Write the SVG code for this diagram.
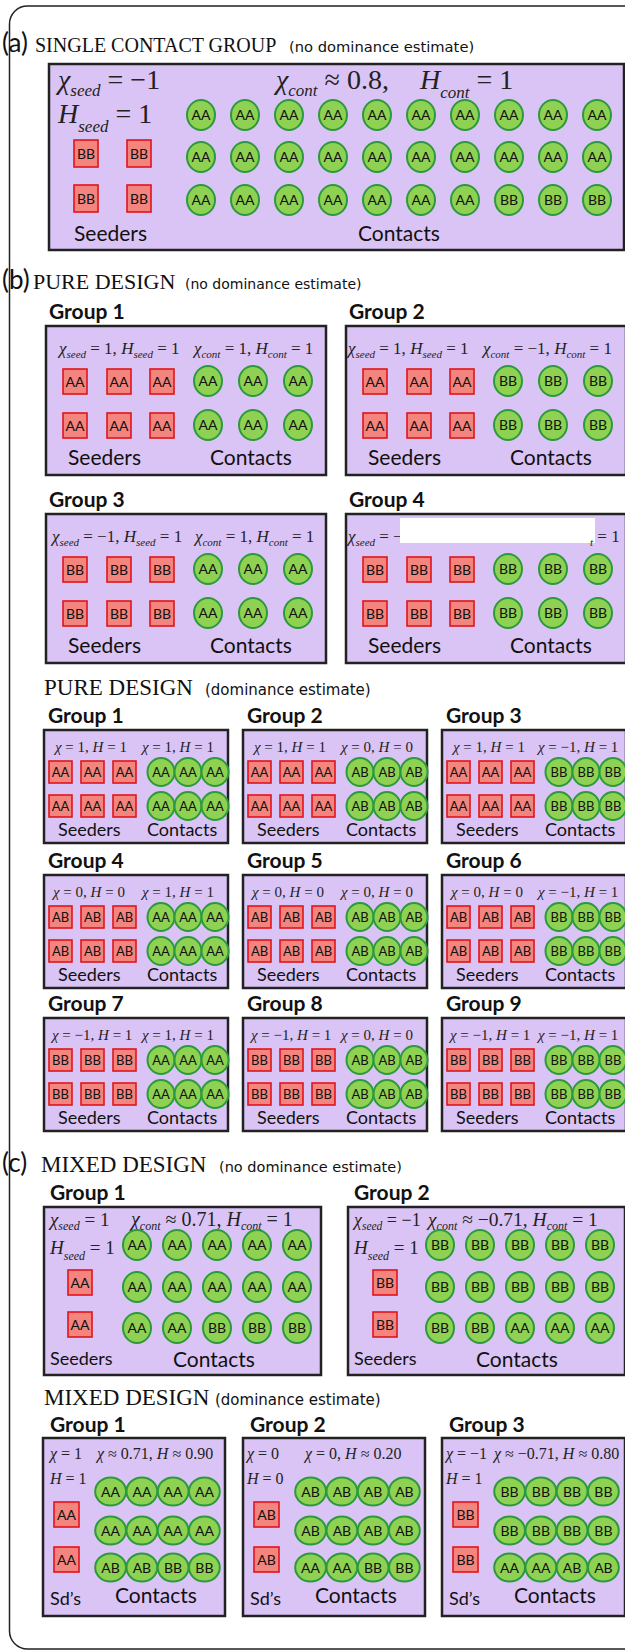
<svg xmlns="http://www.w3.org/2000/svg" width="625" height="1651" viewBox="0 0 625 1651">
<style>
.bx{fill:#dac4f6;stroke:#222;stroke-width:2.5}
.sq{fill:#f4847e;stroke:#e2141c;stroke-width:1.6}
.ci{fill:#8fd152;stroke:#2b9a3c;stroke-width:2}
.gt{font-family:Lato,"Liberation Sans",sans-serif;font-size:14px;fill:#111;text-anchor:middle}
.gs{font-family:Lato,"Liberation Sans",sans-serif;font-size:13px;fill:#111;text-anchor:middle}
.lb{font-family:Lato,"Liberation Sans",sans-serif;font-size:21px;fill:#111}
.ls{font-family:Lato,"Liberation Sans",sans-serif;font-size:18px;fill:#111}
.gh{font-family:Lato,"Liberation Sans",sans-serif;font-size:21px;font-weight:bold;fill:#111}
.m{font-family:"Liberation Serif","Times New Roman",serif;fill:#222}
.i{font-style:italic}
.tl{font-family:"Liberation Serif","Times New Roman",serif;font-size:23px;fill:#111}
.tp{font-family:Lato,"Liberation Sans",sans-serif;font-size:26px;fill:#111}
.ts{font-family:"DejaVu Sans",Verdana,sans-serif;font-size:15px;fill:#111}
</style>
<rect x="9.5" y="6" width="640" height="1643" rx="18" fill="none" stroke="#222" stroke-width="1.5"/>

<!-- (a) -->
<g id="title-a"><text class="tp" x="2" y="52">(a)</text><text class="tl" x="35" y="52" style="font-size:20px">SINGLE CONTACT GROUP</text><text class="ts" x="289" y="52" style="font-size:14.7px">(no dominance estimate)</text></g>
<g id="a-group">
<rect class="bx" x="49" y="64" width="575" height="186"/>
<text class="m" x="58" y="89" font-size="28"><tspan class="i">χ</tspan><tspan class="i" font-size="17" dy="7">seed</tspan><tspan dy="-7"> = −1</tspan></text>
<text class="m" x="58" y="123" font-size="28"><tspan class="i">H</tspan><tspan class="i" font-size="17" dy="9">seed</tspan><tspan dy="-9"> = 1</tspan></text>
<text class="m" x="276" y="89" font-size="28"><tspan class="i">χ</tspan><tspan class="i" font-size="17" dy="7">cont</tspan><tspan dy="-7"> ≈ 0.8,</tspan></text>
<text class="m" x="420" y="89" font-size="28"><tspan class="i">H</tspan><tspan class="i" font-size="17" dy="9">cont</tspan><tspan dy="-9"> = 1</tspan></text>
<rect class="sq" x="74" y="140" width="24" height="27"/><text class="gt" x="86" y="158.5">BB</text>
<rect class="sq" x="127" y="140" width="24" height="27"/><text class="gt" x="139" y="158.5">BB</text>
<rect class="sq" x="74" y="185" width="24" height="27"/><text class="gt" x="86" y="203.5">BB</text>
<rect class="sq" x="127" y="185" width="24" height="27"/><text class="gt" x="139" y="203.5">BB</text>
<ellipse class="ci" cx="201" cy="115" rx="14" ry="15"/><text class="gt" x="201" y="120">AA</text>
<ellipse class="ci" cx="245" cy="115" rx="14" ry="15"/><text class="gt" x="245" y="120">AA</text>
<ellipse class="ci" cx="289" cy="115" rx="14" ry="15"/><text class="gt" x="289" y="120">AA</text>
<ellipse class="ci" cx="333" cy="115" rx="14" ry="15"/><text class="gt" x="333" y="120">AA</text>
<ellipse class="ci" cx="377" cy="115" rx="14" ry="15"/><text class="gt" x="377" y="120">AA</text>
<ellipse class="ci" cx="421" cy="115" rx="14" ry="15"/><text class="gt" x="421" y="120">AA</text>
<ellipse class="ci" cx="465" cy="115" rx="14" ry="15"/><text class="gt" x="465" y="120">AA</text>
<ellipse class="ci" cx="509" cy="115" rx="14" ry="15"/><text class="gt" x="509" y="120">AA</text>
<ellipse class="ci" cx="553" cy="115" rx="14" ry="15"/><text class="gt" x="553" y="120">AA</text>
<ellipse class="ci" cx="597" cy="115" rx="14" ry="15"/><text class="gt" x="597" y="120">AA</text>
<ellipse class="ci" cx="201" cy="157" rx="14" ry="15"/><text class="gt" x="201" y="162">AA</text>
<ellipse class="ci" cx="245" cy="157" rx="14" ry="15"/><text class="gt" x="245" y="162">AA</text>
<ellipse class="ci" cx="289" cy="157" rx="14" ry="15"/><text class="gt" x="289" y="162">AA</text>
<ellipse class="ci" cx="333" cy="157" rx="14" ry="15"/><text class="gt" x="333" y="162">AA</text>
<ellipse class="ci" cx="377" cy="157" rx="14" ry="15"/><text class="gt" x="377" y="162">AA</text>
<ellipse class="ci" cx="421" cy="157" rx="14" ry="15"/><text class="gt" x="421" y="162">AA</text>
<ellipse class="ci" cx="465" cy="157" rx="14" ry="15"/><text class="gt" x="465" y="162">AA</text>
<ellipse class="ci" cx="509" cy="157" rx="14" ry="15"/><text class="gt" x="509" y="162">AA</text>
<ellipse class="ci" cx="553" cy="157" rx="14" ry="15"/><text class="gt" x="553" y="162">AA</text>
<ellipse class="ci" cx="597" cy="157" rx="14" ry="15"/><text class="gt" x="597" y="162">AA</text>
<ellipse class="ci" cx="201" cy="200" rx="14" ry="15"/><text class="gt" x="201" y="205">AA</text>
<ellipse class="ci" cx="245" cy="200" rx="14" ry="15"/><text class="gt" x="245" y="205">AA</text>
<ellipse class="ci" cx="289" cy="200" rx="14" ry="15"/><text class="gt" x="289" y="205">AA</text>
<ellipse class="ci" cx="333" cy="200" rx="14" ry="15"/><text class="gt" x="333" y="205">AA</text>
<ellipse class="ci" cx="377" cy="200" rx="14" ry="15"/><text class="gt" x="377" y="205">AA</text>
<ellipse class="ci" cx="421" cy="200" rx="14" ry="15"/><text class="gt" x="421" y="205">AA</text>
<ellipse class="ci" cx="465" cy="200" rx="14" ry="15"/><text class="gt" x="465" y="205">AA</text>
<ellipse class="ci" cx="509" cy="200" rx="14" ry="15"/><text class="gt" x="509" y="205">BB</text>
<ellipse class="ci" cx="553" cy="200" rx="14" ry="15"/><text class="gt" x="553" y="205">BB</text>
<ellipse class="ci" cx="597" cy="200" rx="14" ry="15"/><text class="gt" x="597" y="205">BB</text>
<text class="lb" x="74" y="241">Seeders</text><text class="lb" x="358" y="241">Contacts</text>
</g>

<!-- (b) -->
<g id="title-b"><text class="tp" x="2" y="289">(b)</text><text class="tl" x="33" y="289" style="font-size:22px">PURE DESIGN</text><text class="ts" x="185" y="289" style="font-size:14px">(no dominance estimate)</text></g>

<g id="b-g1">
<text class="gh" x="49" y="319">Group 1</text>
<rect class="bx" x="46" y="326" width="280" height="149"/>
<text class="m" x="59" y="354" font-size="17"><tspan class="i">χ</tspan><tspan class="i" font-size="11" dy="4">seed</tspan><tspan dy="-4"> = 1, </tspan><tspan class="i">H</tspan><tspan class="i" font-size="11" dy="4">seed</tspan><tspan dy="-4"> = 1</tspan></text>
<text class="m" x="194" y="354" font-size="17"><tspan class="i">χ</tspan><tspan class="i" font-size="11" dy="4">cont</tspan><tspan dy="-4"> = 1, </tspan><tspan class="i">H</tspan><tspan class="i" font-size="11" dy="4">cont</tspan><tspan dy="-4"> = 1</tspan></text>
<rect class="sq" x="63" y="369" width="24" height="25"/><text class="gt" x="75" y="386.5">AA</text>
<rect class="sq" x="107" y="369" width="24" height="25"/><text class="gt" x="119" y="386.5">AA</text>
<rect class="sq" x="150" y="369" width="24" height="25"/><text class="gt" x="162" y="386.5">AA</text>
<rect class="sq" x="63" y="413" width="24" height="25"/><text class="gt" x="75" y="430.5">AA</text>
<rect class="sq" x="107" y="413" width="24" height="25"/><text class="gt" x="119" y="430.5">AA</text>
<rect class="sq" x="150" y="413" width="24" height="25"/><text class="gt" x="162" y="430.5">AA</text>
<ellipse class="ci" cx="208" cy="381" rx="14" ry="15"/><text class="gt" x="208" y="386">AA</text>
<ellipse class="ci" cx="253" cy="381" rx="14" ry="15"/><text class="gt" x="253" y="386">AA</text>
<ellipse class="ci" cx="298" cy="381" rx="14" ry="15"/><text class="gt" x="298" y="386">AA</text>
<ellipse class="ci" cx="208" cy="425" rx="14" ry="15"/><text class="gt" x="208" y="430">AA</text>
<ellipse class="ci" cx="253" cy="425" rx="14" ry="15"/><text class="gt" x="253" y="430">AA</text>
<ellipse class="ci" cx="298" cy="425" rx="14" ry="15"/><text class="gt" x="298" y="430">AA</text>
<text class="lb" x="68" y="465">Seeders</text><text class="lb" x="210" y="465">Contacts</text>
</g>

<g id="b-g2">
<text class="gh" x="349" y="319">Group 2</text>
<rect class="bx" x="346" y="326" width="280" height="149"/>
<text class="m" x="348" y="354" font-size="17"><tspan class="i">χ</tspan><tspan class="i" font-size="11" dy="4">seed</tspan><tspan dy="-4"> = 1, </tspan><tspan class="i">H</tspan><tspan class="i" font-size="11" dy="4">seed</tspan><tspan dy="-4"> = 1</tspan></text>
<text class="m" x="483" y="354" font-size="17"><tspan class="i">χ</tspan><tspan class="i" font-size="11" dy="4">cont</tspan><tspan dy="-4"> = −1, </tspan><tspan class="i">H</tspan><tspan class="i" font-size="11" dy="4">cont</tspan><tspan dy="-4"> = 1</tspan></text>
<rect class="sq" x="363" y="369" width="24" height="25"/><text class="gt" x="375" y="386.5">AA</text>
<rect class="sq" x="407" y="369" width="24" height="25"/><text class="gt" x="419" y="386.5">AA</text>
<rect class="sq" x="450" y="369" width="24" height="25"/><text class="gt" x="462" y="386.5">AA</text>
<rect class="sq" x="363" y="413" width="24" height="25"/><text class="gt" x="375" y="430.5">AA</text>
<rect class="sq" x="407" y="413" width="24" height="25"/><text class="gt" x="419" y="430.5">AA</text>
<rect class="sq" x="450" y="413" width="24" height="25"/><text class="gt" x="462" y="430.5">AA</text>
<ellipse class="ci" cx="508" cy="381" rx="14" ry="15"/><text class="gt" x="508" y="386">BB</text>
<ellipse class="ci" cx="553" cy="381" rx="14" ry="15"/><text class="gt" x="553" y="386">BB</text>
<ellipse class="ci" cx="598" cy="381" rx="14" ry="15"/><text class="gt" x="598" y="386">BB</text>
<ellipse class="ci" cx="508" cy="425" rx="14" ry="15"/><text class="gt" x="508" y="430">BB</text>
<ellipse class="ci" cx="553" cy="425" rx="14" ry="15"/><text class="gt" x="553" y="430">BB</text>
<ellipse class="ci" cx="598" cy="425" rx="14" ry="15"/><text class="gt" x="598" y="430">BB</text>
<text class="lb" x="368" y="465">Seeders</text><text class="lb" x="510" y="465">Contacts</text>
</g>

<g id="b-g3">
<text class="gh" x="49" y="507">Group 3</text>
<rect class="bx" x="46" y="514" width="280" height="149"/>
<text class="m" x="52" y="542" font-size="17"><tspan class="i">χ</tspan><tspan class="i" font-size="11" dy="4">seed</tspan><tspan dy="-4"> = −1, </tspan><tspan class="i">H</tspan><tspan class="i" font-size="11" dy="4">seed</tspan><tspan dy="-4"> = 1</tspan></text>
<text class="m" x="195" y="542" font-size="17"><tspan class="i">χ</tspan><tspan class="i" font-size="11" dy="4">cont</tspan><tspan dy="-4"> = 1, </tspan><tspan class="i">H</tspan><tspan class="i" font-size="11" dy="4">cont</tspan><tspan dy="-4"> = 1</tspan></text>
<rect class="sq" x="63" y="557" width="24" height="25"/><text class="gt" x="75" y="574.5">BB</text>
<rect class="sq" x="107" y="557" width="24" height="25"/><text class="gt" x="119" y="574.5">BB</text>
<rect class="sq" x="150" y="557" width="24" height="25"/><text class="gt" x="162" y="574.5">BB</text>
<rect class="sq" x="63" y="601" width="24" height="25"/><text class="gt" x="75" y="618.5">BB</text>
<rect class="sq" x="107" y="601" width="24" height="25"/><text class="gt" x="119" y="618.5">BB</text>
<rect class="sq" x="150" y="601" width="24" height="25"/><text class="gt" x="162" y="618.5">BB</text>
<ellipse class="ci" cx="208" cy="569" rx="14" ry="15"/><text class="gt" x="208" y="574">AA</text>
<ellipse class="ci" cx="253" cy="569" rx="14" ry="15"/><text class="gt" x="253" y="574">AA</text>
<ellipse class="ci" cx="298" cy="569" rx="14" ry="15"/><text class="gt" x="298" y="574">AA</text>
<ellipse class="ci" cx="208" cy="613" rx="14" ry="15"/><text class="gt" x="208" y="618">AA</text>
<ellipse class="ci" cx="253" cy="613" rx="14" ry="15"/><text class="gt" x="253" y="618">AA</text>
<ellipse class="ci" cx="298" cy="613" rx="14" ry="15"/><text class="gt" x="298" y="618">AA</text>
<text class="lb" x="68" y="653">Seeders</text><text class="lb" x="210" y="653">Contacts</text>
</g>

<g id="b-g4">
<text class="gh" x="349" y="507">Group 4</text>
<rect class="bx" x="346" y="514" width="280" height="149"/>
<text class="m" x="348" y="542" font-size="17"><tspan class="i">χ</tspan><tspan class="i" font-size="11" dy="4">seed</tspan><tspan dy="-4"> = −</tspan></text>
<rect x="400" y="518" width="195" height="25" fill="#ffffff"/>
<text class="m" x="590" y="542" font-size="17"><tspan class="i" font-size="11" dy="4">t</tspan><tspan dy="-4"> = 1</tspan></text>
<rect class="sq" x="363" y="557" width="24" height="25"/><text class="gt" x="375" y="574.5">BB</text>
<rect class="sq" x="407" y="557" width="24" height="25"/><text class="gt" x="419" y="574.5">BB</text>
<rect class="sq" x="450" y="557" width="24" height="25"/><text class="gt" x="462" y="574.5">BB</text>
<rect class="sq" x="363" y="601" width="24" height="25"/><text class="gt" x="375" y="618.5">BB</text>
<rect class="sq" x="407" y="601" width="24" height="25"/><text class="gt" x="419" y="618.5">BB</text>
<rect class="sq" x="450" y="601" width="24" height="25"/><text class="gt" x="462" y="618.5">BB</text>
<ellipse class="ci" cx="508" cy="569" rx="14" ry="15"/><text class="gt" x="508" y="574">BB</text>
<ellipse class="ci" cx="553" cy="569" rx="14" ry="15"/><text class="gt" x="553" y="574">BB</text>
<ellipse class="ci" cx="598" cy="569" rx="14" ry="15"/><text class="gt" x="598" y="574">BB</text>
<ellipse class="ci" cx="508" cy="613" rx="14" ry="15"/><text class="gt" x="508" y="618">BB</text>
<ellipse class="ci" cx="553" cy="613" rx="14" ry="15"/><text class="gt" x="553" y="618">BB</text>
<ellipse class="ci" cx="598" cy="613" rx="14" ry="15"/><text class="gt" x="598" y="618">BB</text>
<text class="lb" x="368" y="653">Seeders</text><text class="lb" x="510" y="653">Contacts</text>
</g>

<!-- pure design dominance -->
<g id="title-pd"><text class="tl" x="44" y="695">PURE DESIGN</text><text class="ts" x="205" y="695">(dominance estimate)</text></g>

<g id="pd-g1">
<text class="gh" x="48" y="723">Group 1</text>
<rect class="bx" x="44" y="730" width="184" height="113"/>
<text class="m" x="55" y="752" font-size="15"><tspan class="i">χ</tspan> = 1, <tspan class="i">H</tspan> = 1</text>
<text class="m" x="142" y="752" font-size="15"><tspan class="i">χ</tspan> = 1, <tspan class="i">H</tspan> = 1</text>
<rect class="sq" x="49" y="761" width="23" height="22"/><text class="gs" x="60.5" y="776.5">AA</text>
<rect class="sq" x="81" y="761" width="23" height="22"/><text class="gs" x="92.5" y="776.5">AA</text>
<rect class="sq" x="113" y="761" width="23" height="22"/><text class="gs" x="124.5" y="776.5">AA</text>
<rect class="sq" x="49" y="795" width="23" height="22"/><text class="gs" x="60.5" y="810.5">AA</text>
<rect class="sq" x="81" y="795" width="23" height="22"/><text class="gs" x="92.5" y="810.5">AA</text>
<rect class="sq" x="113" y="795" width="23" height="22"/><text class="gs" x="124.5" y="810.5">AA</text>
<ellipse class="ci" cx="161" cy="772" rx="13.5" ry="14"/><text class="gs" x="161" y="776.5">AA</text>
<ellipse class="ci" cx="188" cy="772" rx="13.5" ry="14"/><text class="gs" x="188" y="776.5">AA</text>
<ellipse class="ci" cx="215" cy="772" rx="13.5" ry="14"/><text class="gs" x="215" y="776.5">AA</text>
<ellipse class="ci" cx="161" cy="806" rx="13.5" ry="14"/><text class="gs" x="161" y="810.5">AA</text>
<ellipse class="ci" cx="188" cy="806" rx="13.5" ry="14"/><text class="gs" x="188" y="810.5">AA</text>
<ellipse class="ci" cx="215" cy="806" rx="13.5" ry="14"/><text class="gs" x="215" y="810.5">AA</text>
<text class="ls" x="58" y="836">Seeders</text><text class="ls" x="147" y="836">Contacts</text>
</g>

<g id="pd-g2">
<text class="gh" x="247" y="723">Group 2</text>
<rect class="bx" x="243" y="730" width="184" height="113"/>
<text class="m" x="254" y="752" font-size="15"><tspan class="i">χ</tspan> = 1, <tspan class="i">H</tspan> = 1</text>
<text class="m" x="341" y="752" font-size="15"><tspan class="i">χ</tspan> = 0, <tspan class="i">H</tspan> = 0</text>
<rect class="sq" x="248" y="761" width="23" height="22"/><text class="gs" x="259.5" y="776.5">AA</text>
<rect class="sq" x="280" y="761" width="23" height="22"/><text class="gs" x="291.5" y="776.5">AA</text>
<rect class="sq" x="312" y="761" width="23" height="22"/><text class="gs" x="323.5" y="776.5">AA</text>
<rect class="sq" x="248" y="795" width="23" height="22"/><text class="gs" x="259.5" y="810.5">AA</text>
<rect class="sq" x="280" y="795" width="23" height="22"/><text class="gs" x="291.5" y="810.5">AA</text>
<rect class="sq" x="312" y="795" width="23" height="22"/><text class="gs" x="323.5" y="810.5">AA</text>
<ellipse class="ci" cx="360" cy="772" rx="13.5" ry="14"/><text class="gs" x="360" y="776.5">AB</text>
<ellipse class="ci" cx="387" cy="772" rx="13.5" ry="14"/><text class="gs" x="387" y="776.5">AB</text>
<ellipse class="ci" cx="414" cy="772" rx="13.5" ry="14"/><text class="gs" x="414" y="776.5">AB</text>
<ellipse class="ci" cx="360" cy="806" rx="13.5" ry="14"/><text class="gs" x="360" y="810.5">AB</text>
<ellipse class="ci" cx="387" cy="806" rx="13.5" ry="14"/><text class="gs" x="387" y="810.5">AB</text>
<ellipse class="ci" cx="414" cy="806" rx="13.5" ry="14"/><text class="gs" x="414" y="810.5">AB</text>
<text class="ls" x="257" y="836">Seeders</text><text class="ls" x="346" y="836">Contacts</text>
</g>

<g id="pd-g3">
<text class="gh" x="446" y="723">Group 3</text>
<rect class="bx" x="442" y="730" width="184" height="113"/>
<text class="m" x="453" y="752" font-size="15"><tspan class="i">χ</tspan> = 1, <tspan class="i">H</tspan> = 1</text>
<text class="m" x="538" y="752" font-size="15"><tspan class="i">χ</tspan> = −1, <tspan class="i">H</tspan> = 1</text>
<rect class="sq" x="447" y="761" width="23" height="22"/><text class="gs" x="458.5" y="776.5">AA</text>
<rect class="sq" x="479" y="761" width="23" height="22"/><text class="gs" x="490.5" y="776.5">AA</text>
<rect class="sq" x="511" y="761" width="23" height="22"/><text class="gs" x="522.5" y="776.5">AA</text>
<rect class="sq" x="447" y="795" width="23" height="22"/><text class="gs" x="458.5" y="810.5">AA</text>
<rect class="sq" x="479" y="795" width="23" height="22"/><text class="gs" x="490.5" y="810.5">AA</text>
<rect class="sq" x="511" y="795" width="23" height="22"/><text class="gs" x="522.5" y="810.5">AA</text>
<ellipse class="ci" cx="559" cy="772" rx="13.5" ry="14"/><text class="gs" x="559" y="776.5">BB</text>
<ellipse class="ci" cx="586" cy="772" rx="13.5" ry="14"/><text class="gs" x="586" y="776.5">BB</text>
<ellipse class="ci" cx="613" cy="772" rx="13.5" ry="14"/><text class="gs" x="613" y="776.5">BB</text>
<ellipse class="ci" cx="559" cy="806" rx="13.5" ry="14"/><text class="gs" x="559" y="810.5">BB</text>
<ellipse class="ci" cx="586" cy="806" rx="13.5" ry="14"/><text class="gs" x="586" y="810.5">BB</text>
<ellipse class="ci" cx="613" cy="806" rx="13.5" ry="14"/><text class="gs" x="613" y="810.5">BB</text>
<text class="ls" x="456" y="836">Seeders</text><text class="ls" x="545" y="836">Contacts</text>
</g>

<g id="pd-g4">
<text class="gh" x="48" y="868">Group 4</text>
<rect class="bx" x="44" y="875" width="184" height="113"/>
<text class="m" x="53" y="897" font-size="15"><tspan class="i">χ</tspan> = 0, <tspan class="i">H</tspan> = 0</text>
<text class="m" x="142" y="897" font-size="15"><tspan class="i">χ</tspan> = 1, <tspan class="i">H</tspan> = 1</text>
<rect class="sq" x="49" y="906" width="23" height="22"/><text class="gs" x="60.5" y="921.5">AB</text>
<rect class="sq" x="81" y="906" width="23" height="22"/><text class="gs" x="92.5" y="921.5">AB</text>
<rect class="sq" x="113" y="906" width="23" height="22"/><text class="gs" x="124.5" y="921.5">AB</text>
<rect class="sq" x="49" y="940" width="23" height="22"/><text class="gs" x="60.5" y="955.5">AB</text>
<rect class="sq" x="81" y="940" width="23" height="22"/><text class="gs" x="92.5" y="955.5">AB</text>
<rect class="sq" x="113" y="940" width="23" height="22"/><text class="gs" x="124.5" y="955.5">AB</text>
<ellipse class="ci" cx="161" cy="917" rx="13.5" ry="14"/><text class="gs" x="161" y="921.5">AA</text>
<ellipse class="ci" cx="188" cy="917" rx="13.5" ry="14"/><text class="gs" x="188" y="921.5">AA</text>
<ellipse class="ci" cx="215" cy="917" rx="13.5" ry="14"/><text class="gs" x="215" y="921.5">AA</text>
<ellipse class="ci" cx="161" cy="951" rx="13.5" ry="14"/><text class="gs" x="161" y="955.5">AA</text>
<ellipse class="ci" cx="188" cy="951" rx="13.5" ry="14"/><text class="gs" x="188" y="955.5">AA</text>
<ellipse class="ci" cx="215" cy="951" rx="13.5" ry="14"/><text class="gs" x="215" y="955.5">AA</text>
<text class="ls" x="58" y="981">Seeders</text><text class="ls" x="147" y="981">Contacts</text>
</g>

<g id="pd-g5">
<text class="gh" x="247" y="868">Group 5</text>
<rect class="bx" x="243" y="875" width="184" height="113"/>
<text class="m" x="252" y="897" font-size="15"><tspan class="i">χ</tspan> = 0, <tspan class="i">H</tspan> = 0</text>
<text class="m" x="341" y="897" font-size="15"><tspan class="i">χ</tspan> = 0, <tspan class="i">H</tspan> = 0</text>
<rect class="sq" x="248" y="906" width="23" height="22"/><text class="gs" x="259.5" y="921.5">AB</text>
<rect class="sq" x="280" y="906" width="23" height="22"/><text class="gs" x="291.5" y="921.5">AB</text>
<rect class="sq" x="312" y="906" width="23" height="22"/><text class="gs" x="323.5" y="921.5">AB</text>
<rect class="sq" x="248" y="940" width="23" height="22"/><text class="gs" x="259.5" y="955.5">AB</text>
<rect class="sq" x="280" y="940" width="23" height="22"/><text class="gs" x="291.5" y="955.5">AB</text>
<rect class="sq" x="312" y="940" width="23" height="22"/><text class="gs" x="323.5" y="955.5">AB</text>
<ellipse class="ci" cx="360" cy="917" rx="13.5" ry="14"/><text class="gs" x="360" y="921.5">AB</text>
<ellipse class="ci" cx="387" cy="917" rx="13.5" ry="14"/><text class="gs" x="387" y="921.5">AB</text>
<ellipse class="ci" cx="414" cy="917" rx="13.5" ry="14"/><text class="gs" x="414" y="921.5">AB</text>
<ellipse class="ci" cx="360" cy="951" rx="13.5" ry="14"/><text class="gs" x="360" y="955.5">AB</text>
<ellipse class="ci" cx="387" cy="951" rx="13.5" ry="14"/><text class="gs" x="387" y="955.5">AB</text>
<ellipse class="ci" cx="414" cy="951" rx="13.5" ry="14"/><text class="gs" x="414" y="955.5">AB</text>
<text class="ls" x="257" y="981">Seeders</text><text class="ls" x="346" y="981">Contacts</text>
</g>

<g id="pd-g6">
<text class="gh" x="446" y="868">Group 6</text>
<rect class="bx" x="442" y="875" width="184" height="113"/>
<text class="m" x="451" y="897" font-size="15"><tspan class="i">χ</tspan> = 0, <tspan class="i">H</tspan> = 0</text>
<text class="m" x="538" y="897" font-size="15"><tspan class="i">χ</tspan> = −1, <tspan class="i">H</tspan> = 1</text>
<rect class="sq" x="447" y="906" width="23" height="22"/><text class="gs" x="458.5" y="921.5">AB</text>
<rect class="sq" x="479" y="906" width="23" height="22"/><text class="gs" x="490.5" y="921.5">AB</text>
<rect class="sq" x="511" y="906" width="23" height="22"/><text class="gs" x="522.5" y="921.5">AB</text>
<rect class="sq" x="447" y="940" width="23" height="22"/><text class="gs" x="458.5" y="955.5">AB</text>
<rect class="sq" x="479" y="940" width="23" height="22"/><text class="gs" x="490.5" y="955.5">AB</text>
<rect class="sq" x="511" y="940" width="23" height="22"/><text class="gs" x="522.5" y="955.5">AB</text>
<ellipse class="ci" cx="559" cy="917" rx="13.5" ry="14"/><text class="gs" x="559" y="921.5">BB</text>
<ellipse class="ci" cx="586" cy="917" rx="13.5" ry="14"/><text class="gs" x="586" y="921.5">BB</text>
<ellipse class="ci" cx="613" cy="917" rx="13.5" ry="14"/><text class="gs" x="613" y="921.5">BB</text>
<ellipse class="ci" cx="559" cy="951" rx="13.5" ry="14"/><text class="gs" x="559" y="955.5">BB</text>
<ellipse class="ci" cx="586" cy="951" rx="13.5" ry="14"/><text class="gs" x="586" y="955.5">BB</text>
<ellipse class="ci" cx="613" cy="951" rx="13.5" ry="14"/><text class="gs" x="613" y="955.5">BB</text>
<text class="ls" x="456" y="981">Seeders</text><text class="ls" x="545" y="981">Contacts</text>
</g>

<g id="pd-g7">
<text class="gh" x="48" y="1011">Group 7</text>
<rect class="bx" x="44" y="1018" width="184" height="113"/>
<text class="m" x="52" y="1040" font-size="15"><tspan class="i">χ</tspan> = −1, <tspan class="i">H</tspan> = 1</text>
<text class="m" x="142" y="1040" font-size="15"><tspan class="i">χ</tspan> = 1, <tspan class="i">H</tspan> = 1</text>
<rect class="sq" x="49" y="1049" width="23" height="22"/><text class="gs" x="60.5" y="1064.5">BB</text>
<rect class="sq" x="81" y="1049" width="23" height="22"/><text class="gs" x="92.5" y="1064.5">BB</text>
<rect class="sq" x="113" y="1049" width="23" height="22"/><text class="gs" x="124.5" y="1064.5">BB</text>
<rect class="sq" x="49" y="1083" width="23" height="22"/><text class="gs" x="60.5" y="1098.5">BB</text>
<rect class="sq" x="81" y="1083" width="23" height="22"/><text class="gs" x="92.5" y="1098.5">BB</text>
<rect class="sq" x="113" y="1083" width="23" height="22"/><text class="gs" x="124.5" y="1098.5">BB</text>
<ellipse class="ci" cx="161" cy="1060" rx="13.5" ry="14"/><text class="gs" x="161" y="1064.5">AA</text>
<ellipse class="ci" cx="188" cy="1060" rx="13.5" ry="14"/><text class="gs" x="188" y="1064.5">AA</text>
<ellipse class="ci" cx="215" cy="1060" rx="13.5" ry="14"/><text class="gs" x="215" y="1064.5">AA</text>
<ellipse class="ci" cx="161" cy="1094" rx="13.5" ry="14"/><text class="gs" x="161" y="1098.5">AA</text>
<ellipse class="ci" cx="188" cy="1094" rx="13.5" ry="14"/><text class="gs" x="188" y="1098.5">AA</text>
<ellipse class="ci" cx="215" cy="1094" rx="13.5" ry="14"/><text class="gs" x="215" y="1098.5">AA</text>
<text class="ls" x="58" y="1124">Seeders</text><text class="ls" x="147" y="1124">Contacts</text>
</g>

<g id="pd-g8">
<text class="gh" x="247" y="1011">Group 8</text>
<rect class="bx" x="243" y="1018" width="184" height="113"/>
<text class="m" x="251" y="1040" font-size="15"><tspan class="i">χ</tspan> = −1, <tspan class="i">H</tspan> = 1</text>
<text class="m" x="341" y="1040" font-size="15"><tspan class="i">χ</tspan> = 0, <tspan class="i">H</tspan> = 0</text>
<rect class="sq" x="248" y="1049" width="23" height="22"/><text class="gs" x="259.5" y="1064.5">BB</text>
<rect class="sq" x="280" y="1049" width="23" height="22"/><text class="gs" x="291.5" y="1064.5">BB</text>
<rect class="sq" x="312" y="1049" width="23" height="22"/><text class="gs" x="323.5" y="1064.5">BB</text>
<rect class="sq" x="248" y="1083" width="23" height="22"/><text class="gs" x="259.5" y="1098.5">BB</text>
<rect class="sq" x="280" y="1083" width="23" height="22"/><text class="gs" x="291.5" y="1098.5">BB</text>
<rect class="sq" x="312" y="1083" width="23" height="22"/><text class="gs" x="323.5" y="1098.5">BB</text>
<ellipse class="ci" cx="360" cy="1060" rx="13.5" ry="14"/><text class="gs" x="360" y="1064.5">AB</text>
<ellipse class="ci" cx="387" cy="1060" rx="13.5" ry="14"/><text class="gs" x="387" y="1064.5">AB</text>
<ellipse class="ci" cx="414" cy="1060" rx="13.5" ry="14"/><text class="gs" x="414" y="1064.5">AB</text>
<ellipse class="ci" cx="360" cy="1094" rx="13.5" ry="14"/><text class="gs" x="360" y="1098.5">AB</text>
<ellipse class="ci" cx="387" cy="1094" rx="13.5" ry="14"/><text class="gs" x="387" y="1098.5">AB</text>
<ellipse class="ci" cx="414" cy="1094" rx="13.5" ry="14"/><text class="gs" x="414" y="1098.5">AB</text>
<text class="ls" x="257" y="1124">Seeders</text><text class="ls" x="346" y="1124">Contacts</text>
</g>

<g id="pd-g9">
<text class="gh" x="446" y="1011">Group 9</text>
<rect class="bx" x="442" y="1018" width="184" height="113"/>
<text class="m" x="450" y="1040" font-size="15"><tspan class="i">χ</tspan> = −1, <tspan class="i">H</tspan> = 1</text>
<text class="m" x="538" y="1040" font-size="15"><tspan class="i">χ</tspan> = −1, <tspan class="i">H</tspan> = 1</text>
<rect class="sq" x="447" y="1049" width="23" height="22"/><text class="gs" x="458.5" y="1064.5">BB</text>
<rect class="sq" x="479" y="1049" width="23" height="22"/><text class="gs" x="490.5" y="1064.5">BB</text>
<rect class="sq" x="511" y="1049" width="23" height="22"/><text class="gs" x="522.5" y="1064.5">BB</text>
<rect class="sq" x="447" y="1083" width="23" height="22"/><text class="gs" x="458.5" y="1098.5">BB</text>
<rect class="sq" x="479" y="1083" width="23" height="22"/><text class="gs" x="490.5" y="1098.5">BB</text>
<rect class="sq" x="511" y="1083" width="23" height="22"/><text class="gs" x="522.5" y="1098.5">BB</text>
<ellipse class="ci" cx="559" cy="1060" rx="13.5" ry="14"/><text class="gs" x="559" y="1064.5">BB</text>
<ellipse class="ci" cx="586" cy="1060" rx="13.5" ry="14"/><text class="gs" x="586" y="1064.5">BB</text>
<ellipse class="ci" cx="613" cy="1060" rx="13.5" ry="14"/><text class="gs" x="613" y="1064.5">BB</text>
<ellipse class="ci" cx="559" cy="1094" rx="13.5" ry="14"/><text class="gs" x="559" y="1098.5">BB</text>
<ellipse class="ci" cx="586" cy="1094" rx="13.5" ry="14"/><text class="gs" x="586" y="1098.5">BB</text>
<ellipse class="ci" cx="613" cy="1094" rx="13.5" ry="14"/><text class="gs" x="613" y="1098.5">BB</text>
<text class="ls" x="456" y="1124">Seeders</text><text class="ls" x="545" y="1124">Contacts</text>
</g>

<!-- (c) -->
<g id="title-c"><text class="tp" x="2" y="1172">(c)</text><text class="tl" x="41" y="1172">MIXED DESIGN</text><text class="ts" x="219" y="1172" style="font-size:14.5px">(no dominance estimate)</text></g>

<g id="c-g1">
<text class="gh" x="50" y="1200">Group 1</text>
<rect class="bx" x="44" y="1207" width="277" height="168"/>
<text class="m" x="50" y="1226" font-size="19"><tspan class="i">χ</tspan><tspan class="i" font-size="12" dy="4">seed</tspan><tspan dy="-4"> = 1</tspan></text>
<text class="m" x="131" y="1226" font-size="20"><tspan class="i">χ</tspan><tspan class="i" font-size="12" dy="4">cont</tspan><tspan dy="-4"> ≈ 0.71, </tspan><tspan class="i">H</tspan><tspan class="i" font-size="12" dy="4">cont</tspan><tspan dy="-4"> = 1</tspan></text>
<text class="m" x="50" y="1254" font-size="19"><tspan class="i">H</tspan><tspan class="i" font-size="12" dy="6">seed</tspan><tspan dy="-6"> = 1</tspan></text>
<rect class="sq" x="68" y="1270" width="24" height="25"/><text class="gt" x="80" y="1287.5">AA</text>
<rect class="sq" x="68" y="1312" width="24" height="25"/><text class="gt" x="80" y="1329.5">AA</text>
<ellipse class="ci" cx="137" cy="1245" rx="14" ry="15"/><text class="gt" x="137" y="1250">AA</text>
<ellipse class="ci" cx="177" cy="1245" rx="14" ry="15"/><text class="gt" x="177" y="1250">AA</text>
<ellipse class="ci" cx="217" cy="1245" rx="14" ry="15"/><text class="gt" x="217" y="1250">AA</text>
<ellipse class="ci" cx="257" cy="1245" rx="14" ry="15"/><text class="gt" x="257" y="1250">AA</text>
<ellipse class="ci" cx="297" cy="1245" rx="14" ry="15"/><text class="gt" x="297" y="1250">AA</text>
<ellipse class="ci" cx="137" cy="1287" rx="14" ry="15"/><text class="gt" x="137" y="1292">AA</text>
<ellipse class="ci" cx="177" cy="1287" rx="14" ry="15"/><text class="gt" x="177" y="1292">AA</text>
<ellipse class="ci" cx="217" cy="1287" rx="14" ry="15"/><text class="gt" x="217" y="1292">AA</text>
<ellipse class="ci" cx="257" cy="1287" rx="14" ry="15"/><text class="gt" x="257" y="1292">AA</text>
<ellipse class="ci" cx="297" cy="1287" rx="14" ry="15"/><text class="gt" x="297" y="1292">AA</text>
<ellipse class="ci" cx="137" cy="1328" rx="14" ry="15"/><text class="gt" x="137" y="1333">AA</text>
<ellipse class="ci" cx="177" cy="1328" rx="14" ry="15"/><text class="gt" x="177" y="1333">AA</text>
<ellipse class="ci" cx="217" cy="1328" rx="14" ry="15"/><text class="gt" x="217" y="1333">BB</text>
<ellipse class="ci" cx="257" cy="1328" rx="14" ry="15"/><text class="gt" x="257" y="1333">BB</text>
<ellipse class="ci" cx="297" cy="1328" rx="14" ry="15"/><text class="gt" x="297" y="1333">BB</text>
<text class="ls" x="50" y="1365">Seeders</text><text class="lb" x="173" y="1367">Contacts</text>
</g>

<g id="c-g2">
<text class="gh" x="354" y="1200">Group 2</text>
<rect class="bx" x="348" y="1207" width="277" height="168"/>
<text class="m" x="354" y="1226" font-size="18"><tspan class="i">χ</tspan><tspan class="i" font-size="11.5" dy="4">seed</tspan><tspan dy="-4"> = −1</tspan></text>
<text class="m" x="428" y="1226" font-size="19.5"><tspan class="i">χ</tspan><tspan class="i" font-size="12" dy="4">cont</tspan><tspan dy="-4"> ≈ −0.71, </tspan><tspan class="i">H</tspan><tspan class="i" font-size="12" dy="4">cont</tspan><tspan dy="-4"> = 1</tspan></text>
<text class="m" x="354" y="1254" font-size="19"><tspan class="i">H</tspan><tspan class="i" font-size="12" dy="6">seed</tspan><tspan dy="-6"> = 1</tspan></text>
<rect class="sq" x="373" y="1270" width="24" height="25"/><text class="gt" x="385" y="1287.5">BB</text>
<rect class="sq" x="373" y="1312" width="24" height="25"/><text class="gt" x="385" y="1329.5">BB</text>
<ellipse class="ci" cx="440" cy="1245" rx="14" ry="15"/><text class="gt" x="440" y="1250">BB</text>
<ellipse class="ci" cx="480" cy="1245" rx="14" ry="15"/><text class="gt" x="480" y="1250">BB</text>
<ellipse class="ci" cx="520" cy="1245" rx="14" ry="15"/><text class="gt" x="520" y="1250">BB</text>
<ellipse class="ci" cx="560" cy="1245" rx="14" ry="15"/><text class="gt" x="560" y="1250">BB</text>
<ellipse class="ci" cx="600" cy="1245" rx="14" ry="15"/><text class="gt" x="600" y="1250">BB</text>
<ellipse class="ci" cx="440" cy="1287" rx="14" ry="15"/><text class="gt" x="440" y="1292">BB</text>
<ellipse class="ci" cx="480" cy="1287" rx="14" ry="15"/><text class="gt" x="480" y="1292">BB</text>
<ellipse class="ci" cx="520" cy="1287" rx="14" ry="15"/><text class="gt" x="520" y="1292">BB</text>
<ellipse class="ci" cx="560" cy="1287" rx="14" ry="15"/><text class="gt" x="560" y="1292">BB</text>
<ellipse class="ci" cx="600" cy="1287" rx="14" ry="15"/><text class="gt" x="600" y="1292">BB</text>
<ellipse class="ci" cx="440" cy="1328" rx="14" ry="15"/><text class="gt" x="440" y="1333">BB</text>
<ellipse class="ci" cx="480" cy="1328" rx="14" ry="15"/><text class="gt" x="480" y="1333">BB</text>
<ellipse class="ci" cx="520" cy="1328" rx="14" ry="15"/><text class="gt" x="520" y="1333">AA</text>
<ellipse class="ci" cx="560" cy="1328" rx="14" ry="15"/><text class="gt" x="560" y="1333">AA</text>
<ellipse class="ci" cx="600" cy="1328" rx="14" ry="15"/><text class="gt" x="600" y="1333">AA</text>
<text class="ls" x="354" y="1365">Seeders</text><text class="lb" x="476" y="1367">Contacts</text>
</g>

<!-- mixed dominance -->
<g id="title-md"><text class="tl" x="44" y="1405">MIXED DESIGN</text><text class="ts" x="215" y="1405">(dominance estimate)</text></g>

<g id="md-g1">
<text class="gh" x="50" y="1432">Group 1</text>
<rect class="bx" x="43" y="1438" width="182" height="178"/>
<text class="m" x="50" y="1459" font-size="16"><tspan class="i">χ</tspan> = 1</text>
<text class="m" x="97" y="1459" font-size="16"><tspan class="i">χ</tspan> ≈ 0.71, <tspan class="i">H</tspan> ≈ 0.90</text>
<text class="m" x="50" y="1484" font-size="16"><tspan class="i">H</tspan> = 1</text>
<rect class="sq" x="54" y="1502" width="25" height="25"/><text class="gt" x="66.5" y="1519.5">AA</text>
<rect class="sq" x="54" y="1547" width="25" height="25"/><text class="gt" x="66.5" y="1564.5">AA</text>
<ellipse class="ci" cx="110.6" cy="1491.5" rx="15.4" ry="14"/><text class="gt" x="110.6" y="1496.5">AA</text>
<ellipse class="ci" cx="141.9" cy="1491.5" rx="15.4" ry="14"/><text class="gt" x="141.9" y="1496.5">AA</text>
<ellipse class="ci" cx="173.1" cy="1491.5" rx="15.4" ry="14"/><text class="gt" x="173.1" y="1496.5">AA</text>
<ellipse class="ci" cx="204.4" cy="1491.5" rx="15.4" ry="14"/><text class="gt" x="204.4" y="1496.5">AA</text>
<ellipse class="ci" cx="110.6" cy="1530.5" rx="15.4" ry="14"/><text class="gt" x="110.6" y="1535.5">AA</text>
<ellipse class="ci" cx="141.9" cy="1530.5" rx="15.4" ry="14"/><text class="gt" x="141.9" y="1535.5">AA</text>
<ellipse class="ci" cx="173.1" cy="1530.5" rx="15.4" ry="14"/><text class="gt" x="173.1" y="1535.5">AA</text>
<ellipse class="ci" cx="204.4" cy="1530.5" rx="15.4" ry="14"/><text class="gt" x="204.4" y="1535.5">AA</text>
<ellipse class="ci" cx="110.6" cy="1567.5" rx="15.4" ry="14"/><text class="gt" x="110.6" y="1572.5">AB</text>
<ellipse class="ci" cx="141.9" cy="1567.5" rx="15.4" ry="14"/><text class="gt" x="141.9" y="1572.5">AB</text>
<ellipse class="ci" cx="173.1" cy="1567.5" rx="15.4" ry="14"/><text class="gt" x="173.1" y="1572.5">BB</text>
<ellipse class="ci" cx="204.4" cy="1567.5" rx="15.4" ry="14"/><text class="gt" x="204.4" y="1572.5">BB</text>
<text class="ls" x="50" y="1605">Sd’s</text><text class="lb" x="115" y="1603">Contacts</text>
</g>

<g id="md-g2">
<text class="gh" x="250" y="1432">Group 2</text>
<rect class="bx" x="243" y="1438" width="182" height="178"/>
<text class="m" x="247" y="1459" font-size="16"><tspan class="i">χ</tspan> = 0</text>
<text class="m" x="305" y="1459" font-size="16"><tspan class="i">χ</tspan> = 0, <tspan class="i">H</tspan> ≈ 0.20</text>
<text class="m" x="247" y="1484" font-size="16"><tspan class="i">H</tspan> = 0</text>
<rect class="sq" x="254" y="1502" width="25" height="25"/><text class="gt" x="266.5" y="1519.5">AB</text>
<rect class="sq" x="254" y="1547" width="25" height="25"/><text class="gt" x="266.5" y="1564.5">AB</text>
<ellipse class="ci" cx="310.6" cy="1491.5" rx="15.4" ry="14"/><text class="gt" x="310.6" y="1496.5">AB</text>
<ellipse class="ci" cx="341.9" cy="1491.5" rx="15.4" ry="14"/><text class="gt" x="341.9" y="1496.5">AB</text>
<ellipse class="ci" cx="373.1" cy="1491.5" rx="15.4" ry="14"/><text class="gt" x="373.1" y="1496.5">AB</text>
<ellipse class="ci" cx="404.4" cy="1491.5" rx="15.4" ry="14"/><text class="gt" x="404.4" y="1496.5">AB</text>
<ellipse class="ci" cx="310.6" cy="1530.5" rx="15.4" ry="14"/><text class="gt" x="310.6" y="1535.5">AB</text>
<ellipse class="ci" cx="341.9" cy="1530.5" rx="15.4" ry="14"/><text class="gt" x="341.9" y="1535.5">AB</text>
<ellipse class="ci" cx="373.1" cy="1530.5" rx="15.4" ry="14"/><text class="gt" x="373.1" y="1535.5">AB</text>
<ellipse class="ci" cx="404.4" cy="1530.5" rx="15.4" ry="14"/><text class="gt" x="404.4" y="1535.5">AB</text>
<ellipse class="ci" cx="310.6" cy="1567.5" rx="15.4" ry="14"/><text class="gt" x="310.6" y="1572.5">AA</text>
<ellipse class="ci" cx="341.9" cy="1567.5" rx="15.4" ry="14"/><text class="gt" x="341.9" y="1572.5">AA</text>
<ellipse class="ci" cx="373.1" cy="1567.5" rx="15.4" ry="14"/><text class="gt" x="373.1" y="1572.5">BB</text>
<ellipse class="ci" cx="404.4" cy="1567.5" rx="15.4" ry="14"/><text class="gt" x="404.4" y="1572.5">BB</text>
<text class="ls" x="250" y="1605">Sd’s</text><text class="lb" x="315" y="1603">Contacts</text>
</g>

<g id="md-g3">
<text class="gh" x="449" y="1432">Group 3</text>
<rect class="bx" x="442" y="1438" width="183" height="178"/>
<text class="m" x="446" y="1459" font-size="16"><tspan class="i">χ</tspan> = −1</text>
<text class="m" x="494" y="1459" font-size="16"><tspan class="i">χ</tspan> ≈ −0.71, <tspan class="i">H</tspan> ≈ 0.80</text>
<text class="m" x="446" y="1484" font-size="16"><tspan class="i">H</tspan> = 1</text>
<rect class="sq" x="453" y="1502" width="25" height="25"/><text class="gt" x="465.5" y="1519.5">BB</text>
<rect class="sq" x="453" y="1547" width="25" height="25"/><text class="gt" x="465.5" y="1564.5">BB</text>
<ellipse class="ci" cx="509.6" cy="1491.5" rx="15.4" ry="14"/><text class="gt" x="509.6" y="1496.5">BB</text>
<ellipse class="ci" cx="540.9" cy="1491.5" rx="15.4" ry="14"/><text class="gt" x="540.9" y="1496.5">BB</text>
<ellipse class="ci" cx="572.1" cy="1491.5" rx="15.4" ry="14"/><text class="gt" x="572.1" y="1496.5">BB</text>
<ellipse class="ci" cx="603.4" cy="1491.5" rx="15.4" ry="14"/><text class="gt" x="603.4" y="1496.5">BB</text>
<ellipse class="ci" cx="509.6" cy="1530.5" rx="15.4" ry="14"/><text class="gt" x="509.6" y="1535.5">BB</text>
<ellipse class="ci" cx="540.9" cy="1530.5" rx="15.4" ry="14"/><text class="gt" x="540.9" y="1535.5">BB</text>
<ellipse class="ci" cx="572.1" cy="1530.5" rx="15.4" ry="14"/><text class="gt" x="572.1" y="1535.5">BB</text>
<ellipse class="ci" cx="603.4" cy="1530.5" rx="15.4" ry="14"/><text class="gt" x="603.4" y="1535.5">BB</text>
<ellipse class="ci" cx="509.6" cy="1567.5" rx="15.4" ry="14"/><text class="gt" x="509.6" y="1572.5">AA</text>
<ellipse class="ci" cx="540.9" cy="1567.5" rx="15.4" ry="14"/><text class="gt" x="540.9" y="1572.5">AA</text>
<ellipse class="ci" cx="572.1" cy="1567.5" rx="15.4" ry="14"/><text class="gt" x="572.1" y="1572.5">AB</text>
<ellipse class="ci" cx="603.4" cy="1567.5" rx="15.4" ry="14"/><text class="gt" x="603.4" y="1572.5">AB</text>
<text class="ls" x="449" y="1605">Sd’s</text><text class="lb" x="514" y="1603">Contacts</text>
</g>
</svg>
